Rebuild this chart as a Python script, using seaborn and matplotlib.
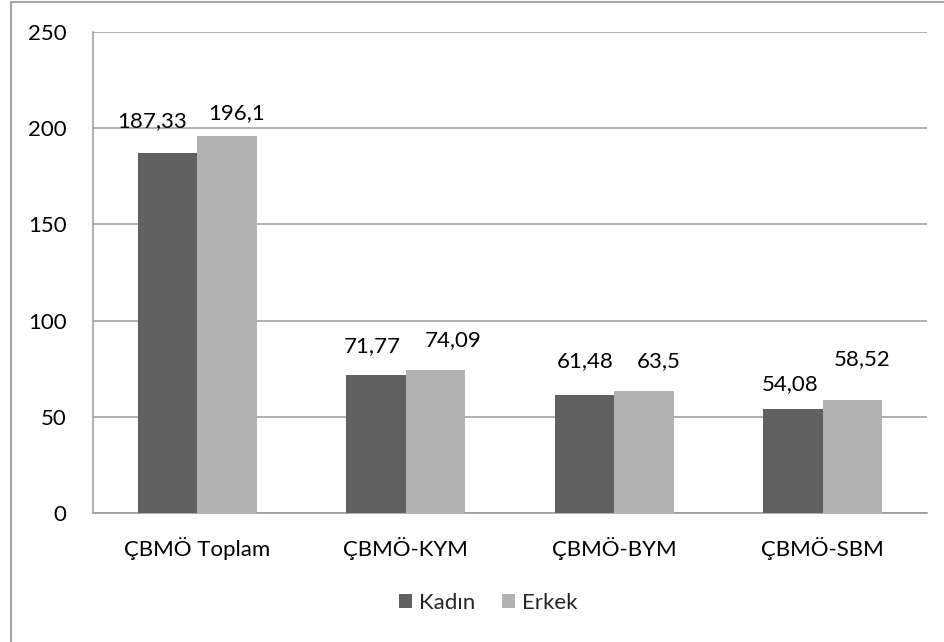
import matplotlib
matplotlib.use("Agg")
import matplotlib.pyplot as plt
from matplotlib.patches import Rectangle
import seaborn as sns
import pandas as pd

categories = ["ÇBMÖ Toplam", "ÇBMÖ-KYM", "ÇBMÖ-BYM", "ÇBMÖ-SBM"]
groups = ["Kadın", "Erkek"]
kadin = [187.33, 71.77, 61.48, 54.08]
erkek = [196.1, 74.09, 63.5, 58.52]
yticks = [0, 50, 100, 150, 200, 250]

# label placement: horizontal shift (pixels) and label centre height (data units)
label_dx = [[-15, -4, 1, -3], [10, 18, 15, 10]]
label_y = [[203.7, 86.8, 79, 67], [208, 90, 79, 80]]

df = pd.DataFrame({
    "kategori": categories * 2,
    "grup": [groups[0]] * 4 + [groups[1]] * 4,
    "deger": kadin + erkek,
})

sns.set_theme(style="white")
plt.rcParams["font.family"] = ["Lato", "DejaVu Sans"]
FS = 16

fig = plt.figure(figsize=(9.45, 6.42), dpi=100)
ax = fig.add_axes([93 / 945, 1 - 513 / 642, (927 - 93) / 945, (513 - 32) / 642])

colors = ["#616161", "#b2b2b2"]
sns.barplot(data=df, x="kategori", y="deger", hue="grup", hue_order=groups,
            order=categories, palette=colors, width=0.572, saturation=1,
            edgecolor="none", linewidth=0, ax=ax, zorder=3)

ax.set_ylim(0, 250)
ax.set_xlim(-0.5, len(categories) - 0.5)
ax.set_yticks(yticks)
ax.set_yticklabels([str(v) for v in yticks])
ax.yaxis.grid(True, color="#9a9a9a", linewidth=1.1, zorder=0)
ax.set_axisbelow(True)
ax.set_xlabel("")
ax.set_ylabel("")
ax.tick_params(axis="y", length=0, pad=19, labelsize=FS, colors="black")
ax.tick_params(axis="x", length=0, pad=17, labelsize=FS, colors="black")

for side in ["top", "right"]:
    ax.spines[side].set_visible(False)
for side in ["left", "bottom"]:
    ax.spines[side].set_color("#9a9a9a")
    ax.spines[side].set_linewidth(1.1)

# value labels
vals = [kadin, erkek]
for gi, cont in enumerate(ax.containers):
    for ci, bar in enumerate(cont):
        xc = bar.get_x() + bar.get_width() / 2
        ax.annotate(f"{vals[gi][ci]:g}".replace(".", ","),
                    xy=(xc, label_y[gi][ci]), xytext=(label_dx[gi][ci], 0),
                    textcoords="offset pixels", ha="center", va="center",
                    fontsize=FS, color="black", zorder=5)

# legend below the plot
handles, labels = ax.get_legend_handles_labels()
ax.legend_.remove()
fig.legend(handles, labels, loc="center", bbox_to_anchor=(488 / 945, 1 - 603 / 642),
           ncol=2, frameon=False, fontsize=FS, handlelength=0.6, handleheight=0.6,
           handletextpad=0.3, columnspacing=1.2)

# outer chart frame
fig.patches.append(Rectangle((11 / 945, -0.1), 1.2, 1.1 - 2 / 642,
                             transform=fig.transFigure, fill=False,
                             edgecolor="#a6a6a6", linewidth=1.5))

fig.savefig("out.png", dpi=100)
